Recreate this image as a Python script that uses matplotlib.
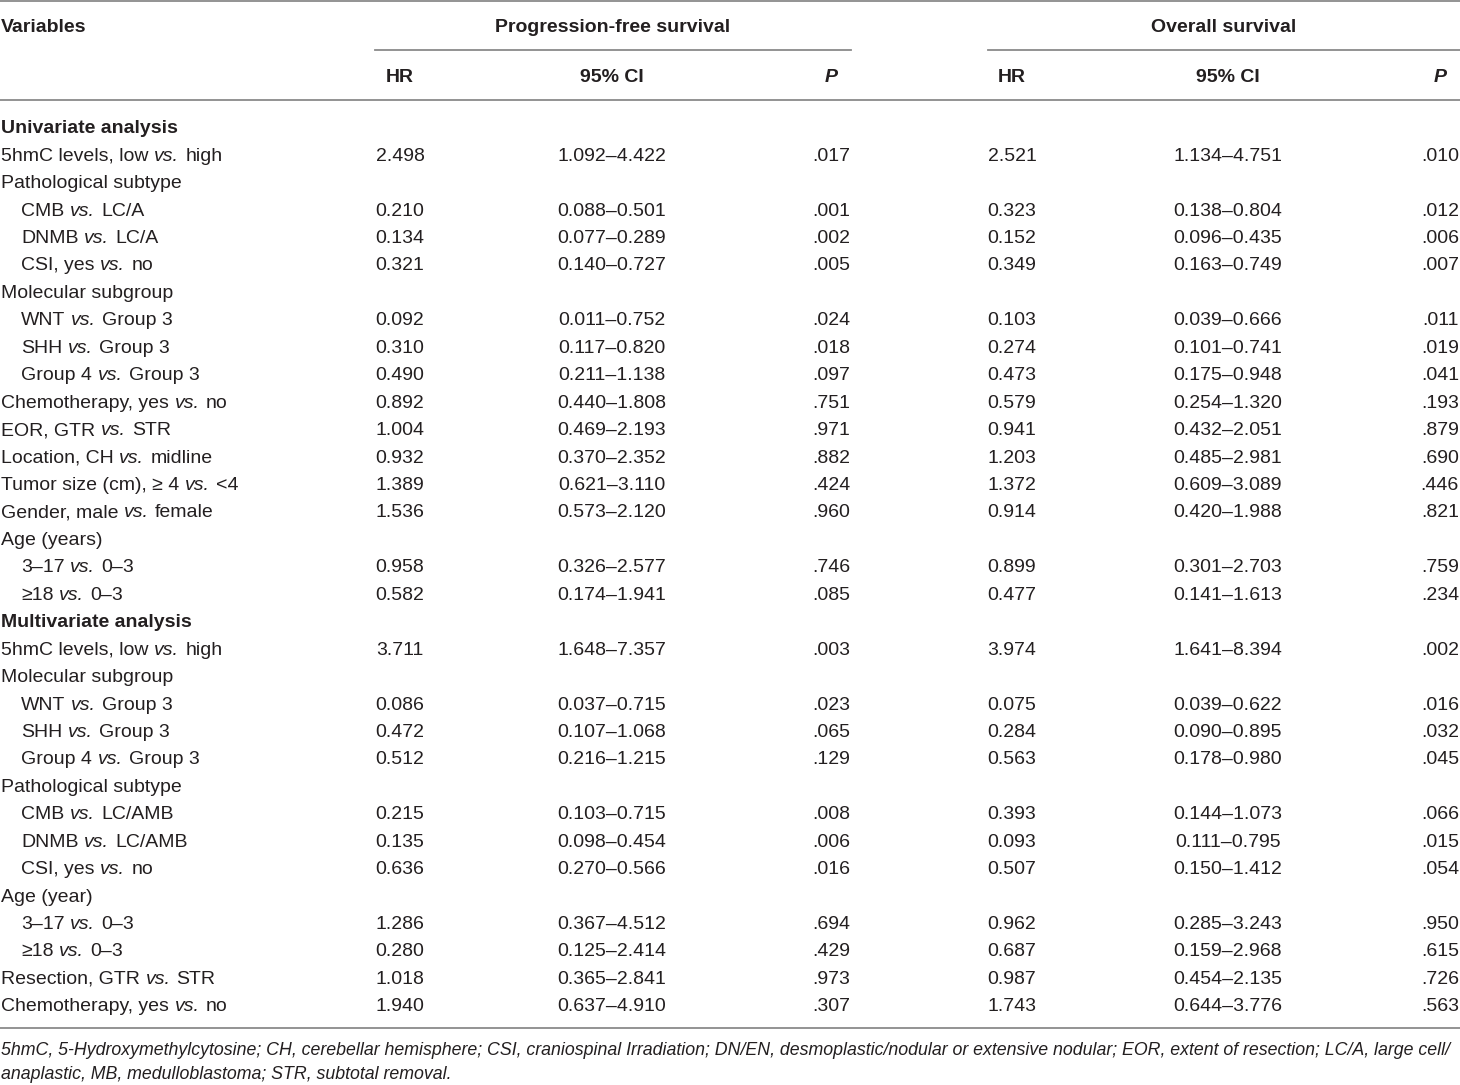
import matplotlib
matplotlib.use("Agg")
import matplotlib.pyplot as plt

plt.rcParams['font.family'] = ['Liberation Sans', 'DejaVu Sans']

labels = [
    "Univariate analysis",
    "5hmC levels, low vs. high",
    "Pathological subtype",
    "CMB vs. LC/A",
    "DNMB vs. LC/A",
    "CSI, yes vs. no",
    "Molecular subgroup",
    "WNT vs. Group 3",
    "SHH vs. Group 3",
    "Group 4 vs. Group 3",
    "Chemotherapy, yes vs. no",
    "EOR, GTR vs. STR",
    "Location, CH vs. midline",
    "Tumor size (cm), \u2265 4 vs. <4",
    "Gender, male vs. female",
    "Age (years)",
    "3\u201317 vs. 0\u20133",
    "\u226518 vs. 0\u20133",
    "Multivariate analysis",
    "5hmC levels, low vs. high",
    "Molecular subgroup",
    "WNT vs. Group 3",
    "SHH vs. Group 3",
    "Group 4 vs. Group 3",
    "Pathological subtype",
    "CMB vs. LC/AMB",
    "DNMB vs. LC/AMB",
    "CSI, yes vs. no",
    "Age (year)",
    "3\u201317 vs. 0\u20133",
    "\u226518 vs. 0\u20133",
    "Resection, GTR vs. STR",
    "Chemotherapy, yes vs. no",
]
indent = [0, 0, 0, 1, 1, 1, 0, 1, 1, 1, 0, 0, 0, 0, 0, 0, 1, 1,
          0, 0, 0, 1, 1, 1, 0, 1, 1, 1, 0, 1, 1, 0, 0]
bold = [1, 0, 0, 0, 0, 0, 0, 0, 0, 0, 0, 0, 0, 0, 0, 0, 0, 0,
        1, 0, 0, 0, 0, 0, 0, 0, 0, 0, 0, 0, 0, 0, 0]

pfs_hr = ["", "2.498", "", "0.210", "0.134", "0.321", "", "0.092", "0.310", "0.490",
          "0.892", "1.004", "0.932", "1.389", "1.536", "", "0.958", "0.582",
          "", "3.711", "", "0.086", "0.472", "0.512", "", "0.215", "0.135", "0.636",
          "", "1.286", "0.280", "1.018", "1.940"]
pfs_ci = ["", "1.092\u20134.422", "", "0.088\u20130.501", "0.077\u20130.289", "0.140\u20130.727", "",
          "0.011\u20130.752", "0.117\u20130.820", "0.211\u20131.138", "0.440\u20131.808",
          "0.469\u20132.193", "0.370\u20132.352", "0.621\u20133.110", "0.573\u20132.120", "",
          "0.326\u20132.577", "0.174\u20131.941",
          "", "1.648\u20137.357", "", "0.037\u20130.715", "0.107\u20131.068", "0.216\u20131.215", "",
          "0.103\u20130.715", "0.098\u20130.454", "0.270\u20130.566", "",
          "0.367\u20134.512", "0.125\u20132.414", "0.365\u20132.841", "0.637\u20134.910"]
pfs_p = ["", ".017", "", ".001", ".002", ".005", "", ".024", ".018", ".097",
         ".751", ".971", ".882", ".424", ".960", "", ".746", ".085",
         "", ".003", "", ".023", ".065", ".129", "", ".008", ".006", ".016",
         "", ".694", ".429", ".973", ".307"]
os_hr = ["", "2.521", "", "0.323", "0.152", "0.349", "", "0.103", "0.274", "0.473",
         "0.579", "0.941", "1.203", "1.372", "0.914", "", "0.899", "0.477",
         "", "3.974", "", "0.075", "0.284", "0.563", "", "0.393", "0.093", "0.507",
         "", "0.962", "0.687", "0.987", "1.743"]
os_ci = ["", "1.134\u20134.751", "", "0.138\u20130.804", "0.096\u20130.435", "0.163\u20130.749", "",
         "0.039\u20130.666", "0.101\u20130.741", "0.175\u20130.948", "0.254\u20131.320",
         "0.432\u20132.051", "0.485\u20132.981", "0.609\u20133.089", "0.420\u20131.988", "",
         "0.301\u20132.703", "0.141\u20131.613",
         "", "1.641\u20138.394", "", "0.039\u20130.622", "0.090\u20130.895", "0.178\u20130.980", "",
         "0.144\u20131.073", "0.111\u20130.795", "0.150\u20131.412", "",
         "0.285\u20133.243", "0.159\u20132.968", "0.454\u20132.135", "0.644\u20133.776"]
os_p = ["", ".010", "", ".012", ".006", ".007", "", ".011", ".019", ".041",
        ".193", ".879", ".690", ".446", ".821", "", ".759", ".234",
        "", ".002", "", ".016", ".032", ".045", "", ".066", ".015", ".054",
        "", ".950", ".615", ".726", ".563"]

group_titles = ["Progression-free survival", "Overall survival"]
col_titles = ["HR", "95% CI", "P"]
footnote = ["5hmC, 5-Hydroxymethylcytosine; CH, cerebellar hemisphere; CSI, craniospinal Irradiation; "
            "DN/EN, desmoplastic/nodular or extensive nodular; EOR, extent of resection; LC/A, large cell/",
            "anaplastic, MB, medulloblastoma; STR, subtotal removal."]

W, H = 1460, 1085
fig = plt.figure(figsize=(W / 100, H / 100), dpi=100)
ax = fig.add_axes([0, 0, 1, 1])
ax.set_xlim(0, W)
ax.set_ylim(H, 0)
ax.axis("off")
renderer = fig.canvas.get_renderer()

TXT = "#231f20"
LINE = "#8a8a8a"
FS = 14.0


def width_of(t):
    return t.get_window_extent(renderer).width


def space_width(**kw):
    a = ax.text(0, -100, "aa", **kw)
    b = ax.text(0, -100, "a a", **kw)
    w = width_of(b) - width_of(a)
    a.remove()
    b.remove()
    return w


SPW = space_width(fontsize=FS)


def rich(x, y, s, **kw):
    """Draw a label in which the token 'vs.' is italic."""
    runs = []
    for w in s.split(" "):
        it = (w == "vs.")
        if runs and runs[-1][1] == it:
            runs[-1][0].append(w)
        else:
            runs.append(([w], it))
    for ws, it in runs:
        t = ax.text(x, y, " ".join(ws), fontstyle="italic" if it else "normal", **kw)
        x = x + width_of(t) + SPW + (0.8 if it else 0.3)


# horizontal rules
ax.plot([0, W], [1, 1], color=LINE, lw=1.3)
ax.plot([375, 851], [50, 50], color=LINE, lw=1.3)
ax.plot([988, W], [50, 50], color=LINE, lw=1.3)
ax.plot([0, W], [100, 100], color=LINE, lw=1.3)
ax.plot([0, W], [1028, 1028], color=LINE, lw=1.3)

# headers
hb1, hb2 = 32.5, 82.5
ax.text(1, hb1, "Variables", fontsize=FS, fontweight="bold", color=TXT, va="baseline", ha="left")
ax.text(613, hb1, group_titles[0], fontsize=FS, fontweight="bold", color=TXT, va="baseline", ha="center")
ax.text(1224, hb1, group_titles[1], fontsize=FS, fontweight="bold", color=TXT, va="baseline", ha="center")

groups = [(400, 612, 850), (1012, 1228, 1459)]
for (xhr, xci, xp) in groups:
    ax.text(xhr, hb2, col_titles[0], fontsize=FS, fontweight="bold", color=TXT, va="baseline", ha="center")
    ax.text(xci, hb2, col_titles[1], fontsize=FS, fontweight="bold", color=TXT, va="baseline", ha="center")
    ax.text(xp - 12, hb2, col_titles[2], fontsize=FS, fontweight="bold", fontstyle="italic",
            color=TXT, va="baseline", ha="right")

y0, dy = 133.3, 27.44
for i, lab in enumerate(labels):
    y = y0 + i * dy
    rich(1 + 20 * indent[i], y, lab, fontsize=FS, color=TXT, va="baseline", ha="left",
         fontweight="bold" if bold[i] else "normal")
    for (xhr, xci, xp), (hr, ci, p) in zip(groups, [(pfs_hr, pfs_ci, pfs_p), (os_hr, os_ci, os_p)]):
        if hr[i]:
            ax.text(xhr, y, hr[i], fontsize=FS, color=TXT, va="baseline", ha="center")
            ax.text(xci, y, ci[i], fontsize=FS, color=TXT, va="baseline", ha="center")
            ax.text(xp, y, p[i], fontsize=FS, color=TXT, va="baseline", ha="right")

ax.text(1, 1055, footnote[0], fontsize=12.75, fontstyle="italic", color=TXT, va="baseline", ha="left")
ax.text(1, 1079, footnote[1], fontsize=12.75, fontstyle="italic", color=TXT, va="baseline", ha="left")

fig.savefig("out.png", dpi=100)
